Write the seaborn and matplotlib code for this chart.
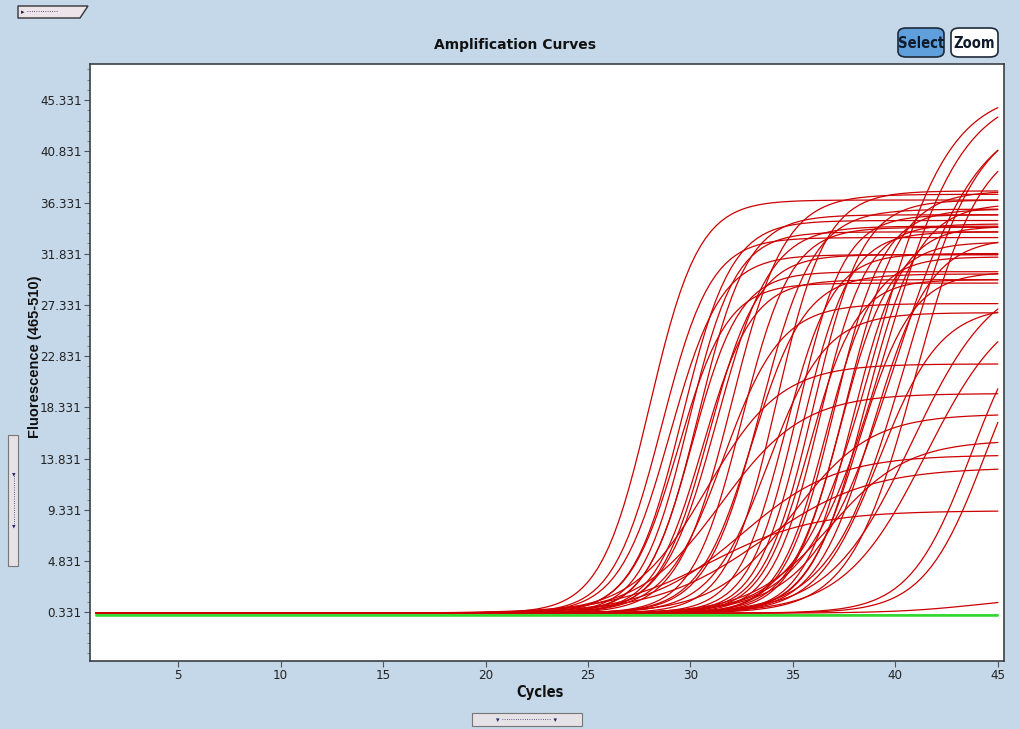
import numpy as np
import pandas as pd
import matplotlib
matplotlib.use("Agg")
import matplotlib.pyplot as plt
import seaborn as sns
from matplotlib import font_manager as fm
from matplotlib.font_manager import FontProperties
from matplotlib.patches import FancyBboxPatch, Polygon, Rectangle
from matplotlib.ticker import FixedLocator

# ---------------- data ----------------
cycles = np.arange(1, 45.001, 0.25)

# per-well amplification parameters: midpoint cycle, plateau height, steepness
midpoint = [28.0, 28.6, 29.0, 29.4, 29.6, 29.9, 30.1, 30.4, 30.6, 30.9,
            31.3, 30.8, 31.6, 32.0, 31.5, 32.5, 32.5, 33.0, 33.4, 33.5,
            31.0, 33.8, 34.2, 34.6, 35.0, 35.2, 35.5, 35.8, 36.0, 36.3,
            36.6, 36.8, 37.0, 37.3, 37.6, 37.9, 38.2, 38.5, 38.9, 39.2,
            39.0, 39.5, 40.0, 40.5, 41.0, 40.8, 41.5, 43.7, 44.4, 44.0]
plateau = [36.3, 33.0, 31.5, 29.0, 34.5, 33.5, 30.0, 35.0, 29.3, 31.5,
           34.0, 21.9, 27.2, 36.8, 19.3, 33.9, 13.9, 29.8, 35.5, 12.8,
           9.0, 26.4, 37.1, 31.6, 17.5, 35.0, 33.5, 29.3, 36.3, 34.2,
           31.3, 15.2, 35.5, 32.6, 37.1, 34.0, 30.0, 36.0, 33.0, 27.0,
           46.0, 46.0, 44.0, 44.0, 42.0, 30.0, 28.0, 28.0, 28.0, 1.5]
steepness = [1.2, 1.2, 1.25, 1.2, 1.2, 1.15, 1.15, 1.2, 1.2, 1.2,
             1.3, 1.8, 1.4, 1.3, 2.0, 1.2, 2.3, 1.3, 1.3, 2.6,
             2.5, 1.4, 1.2, 1.15, 1.9, 1.15, 1.15, 1.15, 1.2, 1.15,
             1.15, 1.9, 1.2, 1.2, 1.3, 1.2, 1.3, 1.3, 1.4, 1.5,
             1.8, 1.9, 2.0, 1.8, 1.6, 2.0, 2.0, 1.5, 1.5, 2.0]
baseline = 0.25
negative_levels = [0.02, 0.08, 0.12]

y_ticks = [0.331, 4.831, 9.331, 13.831, 18.331, 22.831, 27.331, 31.831,
           36.331, 40.831, 45.331]
x_ticks = [5, 10, 15, 20, 25, 30, 35, 40, 45]

# ---------------- tidy frames ----------------
rows = []
for i, (c, p, s) in enumerate(zip(midpoint, plateau, steepness)):
    f = baseline + p / (1.0 + np.exp(-(cycles - c) / s))
    rows.append(pd.DataFrame({"well": f"S{i}", "cycle": cycles, "fluor": f}))
pos = pd.concat(rows, ignore_index=True)

neg = pd.concat([pd.DataFrame({"well": f"N{i}", "cycle": cycles,
                               "fluor": np.full_like(cycles, lv)})
                 for i, lv in enumerate(negative_levels)], ignore_index=True)

# ---------------- fonts ----------------
sns.set_theme(style="white")
plt.rcParams["font.family"] = ["Liberation Sans", "DejaVu Sans"]


def pick_font(bold):
    wts = (700, "bold") if bold else (400, "normal", "regular")
    fonts = fm.fontManager.ttflist
    for f in fonts:
        if f.name == "Liberation Sans Narrow" and f.weight in wts and f.style == "normal":
            return f.fname
    for f in fonts:
        if f.name == "DejaVu Sans" and f.stretch == "condensed" and f.weight in wts and f.style == "normal":
            return f.fname
    return None


cn = pick_font(False)
cb = pick_font(True)
tick_fp = FontProperties(fname=cn, size=9.5) if cn else FontProperties(family="Liberation Sans", size=9)
bold_fp = FontProperties(fname=cb, size=10.5) if cb else FontProperties(family="Liberation Sans", weight="bold", size=10)
btn_fp = FontProperties(fname=cb, size=10.5) if cb else FontProperties(family="Liberation Sans", weight="bold", size=10)

# ---------------- figure ----------------
bg = "#c5d8e9"
fig = plt.figure(figsize=(10.2, 7.29), dpi=100, facecolor=bg)
ax = fig.add_axes([90 / 1020, 1 - 661 / 729, 914 / 1020, 597 / 729])
ax.set_facecolor("white")

sns.lineplot(data=neg, x="cycle", y="fluor", units="well", estimator=None,
             color="#2ed82e", lw=1.1, ax=ax, legend=False)
sns.lineplot(data=pos, x="cycle", y="fluor", units="well", estimator=None,
             color="#cc0000", lw=0.9, ax=ax, legend=False)

ax.set_xlim(0.7, 45.3)
ax.set_ylim(-3.95, 48.5)
ax.xaxis.set_major_locator(FixedLocator(x_ticks))
ax.yaxis.set_major_locator(FixedLocator(y_ticks))
ax.set_yticklabels([f"{v:.3f}" for v in y_ticks])
ax.set_xticklabels([str(v) for v in x_ticks])
for lab in ax.get_xticklabels() + ax.get_yticklabels():
    lab.set_fontproperties(tick_fp)
    lab.set_color("#222222")
minor = [v + 0.9 * k for v in y_ticks[:-1] for k in range(1, 5)] + \
        [y_ticks[-1] + 0.9 * k for k in range(1, 4)] + \
        [y_ticks[0] - 0.9 * k for k in range(1, 5)]
ax.yaxis.set_minor_locator(FixedLocator(minor))
ax.tick_params(axis="both", which="major", direction="out", length=4, width=0.8,
               color="#555555", pad=2, left=True, bottom=True)
ax.tick_params(axis="y", which="minor", direction="out", length=2, width=0.6,
               color="#777777", left=True)
for sp in ax.spines.values():
    sp.set_color("#3a3f45")
    sp.set_linewidth(1.2)

ax.set_xlabel("")
ax.set_ylabel("")
fig.text(540 / 1020, 1 - 692 / 729, "Cycles", ha="center", va="center",
         fontproperties=bold_fp, color="#111111")
fig.text(35 / 1020, 1 - 357 / 729, "Fluorescence (465-510)", rotation=90,
         ha="center", va="center", fontsize=10.5, fontweight="bold",
         family=["Liberation Sans", "DejaVu Sans"], color="#111111")
fig.text(515 / 1020, 1 - 45 / 729, "Amplification Curves", ha="center",
         va="center", fontsize=10, fontweight="bold",
         family=["DejaVu Sans"], color="#111111")

# ---------------- buttons and widgets ----------------
def px(x, y):
    return x / 1020, 1 - y / 729


b1 = FancyBboxPatch(px(898, 57), 46 / 1020, 29 / 729,
                    boxstyle="round,pad=0,rounding_size=0.008",
                    transform=fig.transFigure, facecolor="#5fa0dc",
                    edgecolor="#1d2a3a", lw=1.2)
b2 = FancyBboxPatch(px(951, 57), 47 / 1020, 29 / 729,
                    boxstyle="round,pad=0,rounding_size=0.008",
                    transform=fig.transFigure, facecolor="white",
                    edgecolor="#1d2a3a", lw=1.2)
fig.patches.extend([b1, b2])
fig.text(921 / 1020, 1 - 43 / 729, "Select", ha="center", va="center",
         fontproperties=btn_fp, color="#0f1a2a")
fig.text(974.5 / 1020, 1 - 43 / 729, "Zoom", ha="center", va="center",
         fontproperties=btn_fp, color="#0f1a2a")

tab = Polygon([px(18, 6), px(88, 6), px(80, 18), px(18, 18)], closed=True,
              transform=fig.transFigure, facecolor="#ece4e8",
              edgecolor="#333333", lw=1.0)
fig.patches.append(tab)
fig.text(21 / 1020, 1 - 12 / 729, "▸ ··············", ha="left", va="center",
         fontsize=5, color="#222244", family=["DejaVu Sans"])

side = Rectangle(px(8, 566), 10 / 1020, 131 / 729, transform=fig.transFigure,
                 facecolor="#e6e2e6", edgecolor="#777777", lw=0.8)
fig.patches.append(side)
fig.text(13 / 1020, 1 - 500 / 729, "▸" + "·" * 22 + "▸", rotation=-90,
         ha="center", va="center", fontsize=5, color="#222266",
         family=["DejaVu Sans"])

bottom = Rectangle(px(472, 726), 110 / 1020, 13 / 729, transform=fig.transFigure,
                   facecolor="#e6e2e6", edgecolor="#777777", lw=0.8)
fig.patches.append(bottom)
fig.text(527 / 1020, 1 - 719.5 / 729, "▾ ······················ ▾",
         ha="center", va="center", fontsize=5, color="#222266",
         family=["DejaVu Sans"])

fig.savefig("out.png", dpi=100, facecolor=bg)
